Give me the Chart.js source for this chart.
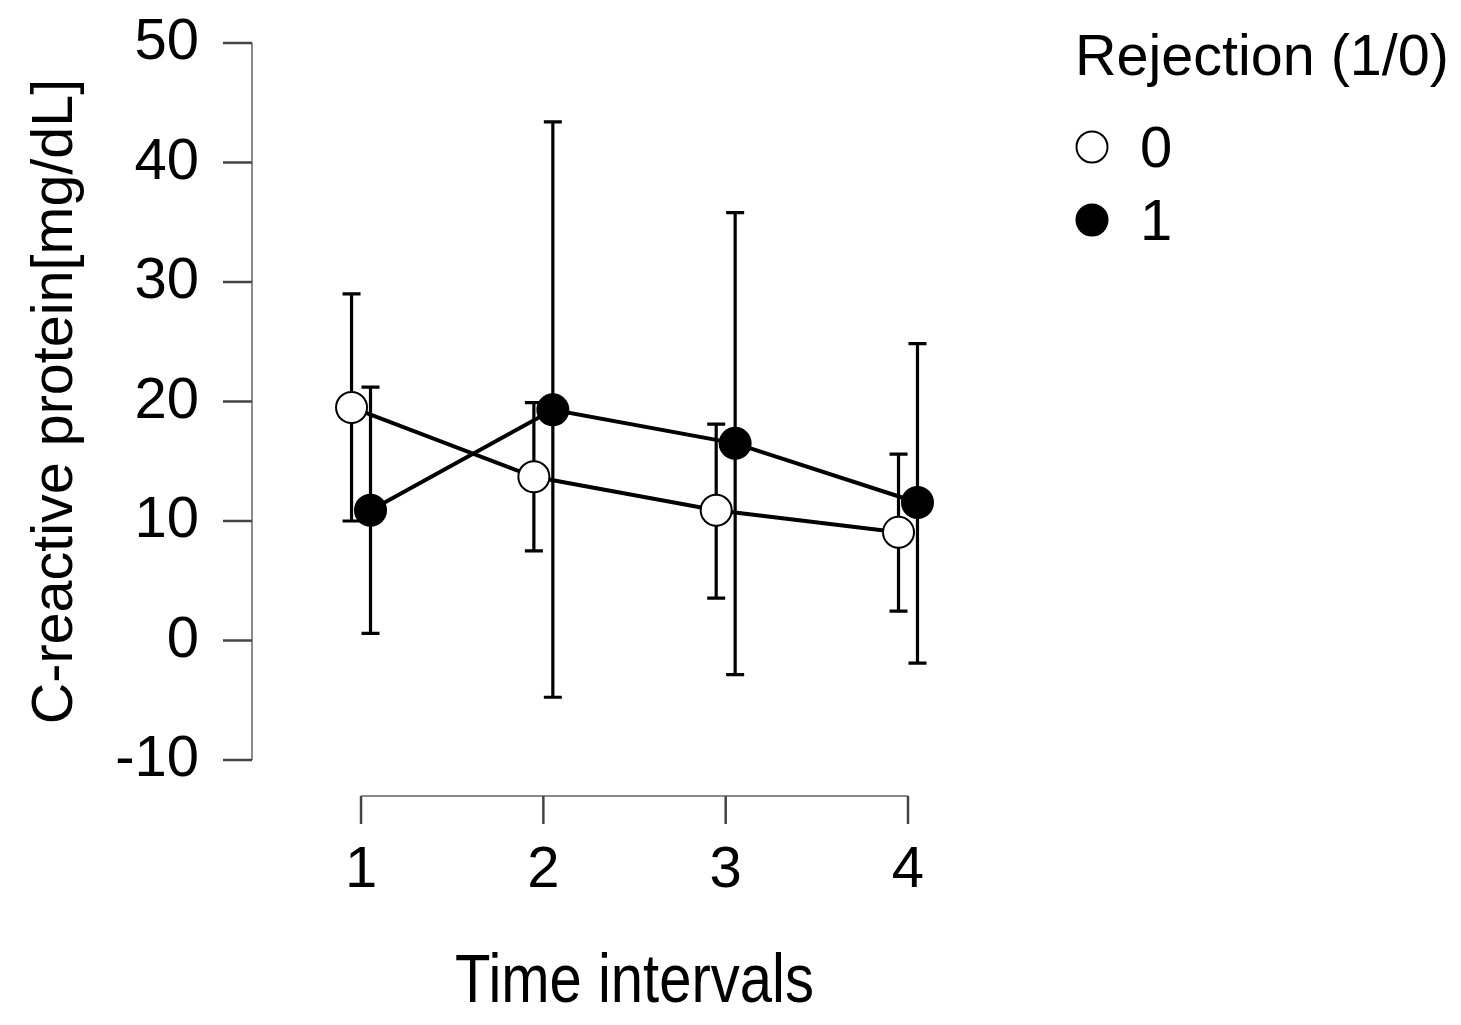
<!DOCTYPE html>
<html>
<head>
<meta charset="utf-8">
<script src="https://cdn.jsdelivr.net/npm/chart.js@4.4.1/dist/chart.umd.min.js"></script>
<style>
  html, body { margin: 0; padding: 0; background: #fff; }
  #wrap { width: 1461px; height: 1025px; }
</style>
</head>
<body>
<div id="wrap"><canvas id="crpChart" width="1461" height="1025"></canvas></div>
<script>
// time intervals on the x axis
const timeIntervals = [1, 2, 3, 4];

// Rejection = 0
const rej0Mean  = [19.5, 13.7, 10.9, 9.05];
const rej0Upper = [29.0, 19.9, 18.1, 15.6];
const rej0Lower = [10.0, 7.5, 3.55, 2.45];

// Rejection = 1
const rej1Mean  = [10.9, 19.3, 16.5, 11.55];
const rej1Upper = [21.2, 43.4, 35.8, 24.85];
const rej1Lower = [0.6, -4.75, -2.85, -1.9];

const yTitle = 'C-reactive protein[mg/dL]';
const xTitle = 'Time intervals';
const legendTitle = 'Rejection (1/0)';

const FONT = '"Liberation Sans", Arial, sans-serif';
const dodge = 0.052;

const points = (means, shift) => means.map((v, i) => ({ x: timeIntervals[i] + shift, y: v }));

const rAxis = {
  id: 'rAxis',
  beforeDatasetsDraw(chart) {
    const { ctx, scales: { x, y } } = chart;
    ctx.save();
    ctx.strokeStyle = '#000';
    ctx.lineWidth = 3.2;
    chart.data.datasets.forEach(ds => {
      ds.data.forEach((p, i) => {
        const px = x.getPixelForValue(p.x);
        const top = y.getPixelForValue(ds.errHigh[i]);
        const bot = y.getPixelForValue(ds.errLow[i]);
        ctx.beginPath();
        ctx.moveTo(px, top); ctx.lineTo(px, bot);
        ctx.moveTo(px - 9, top); ctx.lineTo(px + 9, top);
        ctx.moveTo(px - 9, bot); ctx.lineTo(px + 9, bot);
        ctx.stroke();
      });
    });
    ctx.restore();
  },
  afterDraw(chart) {
    const { ctx, scales: { x, y } } = chart;
    ctx.save();
    // y axis
    const yl = y.right;
    const yTop = y.getPixelForValue(50), yBot = y.getPixelForValue(-10);
    ctx.strokeStyle = '#8a8a8a';
    ctx.lineWidth = 2;
    ctx.beginPath();
    ctx.moveTo(yl, yTop); ctx.lineTo(yl, yBot);
    ctx.stroke();
    ctx.strokeStyle = '#444';
    ctx.lineWidth = 2.5;
    y.ticks.forEach(t => {
      const py = y.getPixelForValue(t.value);
      ctx.beginPath(); ctx.moveTo(yl - 29, py); ctx.lineTo(yl, py); ctx.stroke();
    });
    // x axis, detached below the plot
    const xa = y.bottom + 36;
    const x1 = x.getPixelForValue(timeIntervals[0]);
    const x4 = x.getPixelForValue(timeIntervals[timeIntervals.length - 1]);
    ctx.strokeStyle = '#8a8a8a';
    ctx.lineWidth = 2;
    ctx.beginPath(); ctx.moveTo(x1, xa); ctx.lineTo(x4, xa); ctx.stroke();
    ctx.strokeStyle = '#444';
    ctx.lineWidth = 2.5;
    timeIntervals.forEach(t => {
      const px = x.getPixelForValue(t);
      ctx.beginPath(); ctx.moveTo(px, xa); ctx.lineTo(px, xa + 28); ctx.stroke();
    });

    // axis titles
    ctx.fillStyle = '#000';
    ctx.textAlign = 'center';
    ctx.textBaseline = 'alphabetic';
    ctx.save();
    ctx.translate((x1 + x4) / 2, 1002);
    ctx.scale(1, 1.18);
    ctx.font = '58px ' + FONT;
    ctx.fillText(xTitle, 0, 0);
    ctx.restore();
    ctx.save();
    ctx.translate(72, (yTop + yBot) / 2);
    ctx.rotate(-Math.PI / 2);
    ctx.font = '57.5px ' + FONT;
    ctx.fillText(yTitle, 0, 0);
    ctx.restore();

    // legend
    ctx.textAlign = 'left';
    ctx.font = '57.5px ' + FONT;
    ctx.fillText(legendTitle, 1075, 75);
    ctx.font = '58px ' + FONT;
    chart.data.datasets.forEach((ds, i) => {
      const cy = 147 + i * 73;
      ctx.beginPath();
      ctx.arc(1092, cy, 15.5, 0, Math.PI * 2);
      ctx.fillStyle = ds.pointBackgroundColor;
      ctx.fill();
      ctx.strokeStyle = '#000';
      ctx.lineWidth = 2;
      ctx.stroke();
      ctx.fillStyle = '#000';
      ctx.fillText(ds.label, 1140, cy + 20);
    });
    ctx.restore();
  }
};

new Chart(document.getElementById('crpChart'), {
  type: 'line',
  data: {
    datasets: [
      {
        label: '0',
        data: points(rej0Mean, -dodge),
        errHigh: rej0Upper,
        errLow: rej0Lower,
        borderColor: '#000',
        borderWidth: 4,
        pointRadius: 15.5,
        pointBorderWidth: 2,
        pointBorderColor: '#000',
        pointBackgroundColor: '#fff',
      },
      {
        label: '1',
        data: points(rej1Mean, dodge),
        errHigh: rej1Upper,
        errLow: rej1Lower,
        borderColor: '#000',
        borderWidth: 4,
        pointRadius: 15.5,
        pointBorderWidth: 2,
        pointBorderColor: '#000',
        pointBackgroundColor: '#000',
      },
    ],
  },
  options: {
    responsive: false,
    devicePixelRatio: 1,
    animation: false,
    layout: { padding: { top: 43, left: 0, right: 461, bottom: 0 } },
    plugins: { legend: { display: false }, tooltip: { enabled: false } },
    scales: {
      x: {
        type: 'linear',
        min: 0.402,
        max: 4.5046,
        afterFit: s => { s.height = 265; s.paddingLeft = 0; s.paddingRight = 0; },
        afterBuildTicks: s => { s.ticks = timeIntervals.map(v => ({ value: v })); },
        grid: { display: false },
        border: { display: false },
        ticks: { color: '#000', font: { size: 58, family: FONT }, padding: 68, maxRotation: 0 },
      },
      y: {
        min: -10,
        max: 50,
        afterFit: s => { s.width = 252; s.paddingTop = 0; s.paddingBottom = 0; },
        grid: { display: false },
        border: { display: false },
        ticks: { stepSize: 10, color: '#000', font: { size: 58, family: FONT }, padding: 45 },
      },
    },
  },
  plugins: [rAxis],
});
</script>
</body>
</html>
